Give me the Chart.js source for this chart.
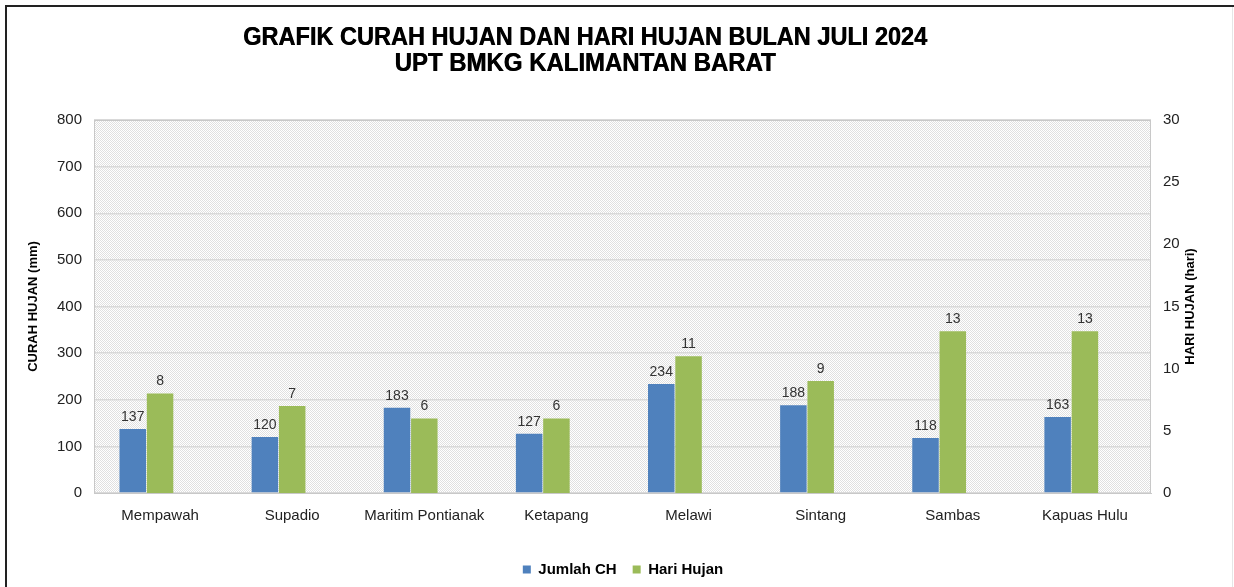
<!DOCTYPE html>
<html>
<head>
<meta charset="utf-8">
<script src="https://cdn.jsdelivr.net/npm/chart.js@4"></script>
<style>
  html, body { margin: 0; padding: 0; background: #fff; }
  #wrap { width: 1234px; height: 587px; position: relative; }
</style>
</head>
<body>
<div id="wrap"><canvas id="grafik" width="1234" height="587"></canvas></div>
<script>
// --- Data ---
const categories = ['Mempawah', 'Supadio', 'Maritim Pontianak', 'Ketapang', 'Melawi', 'Sintang', 'Sambas', 'Kapuas Hulu'];
const jumlahCH = [137, 120, 183, 127, 234, 188, 118, 163];
const hariHujan = [8, 7, 6, 6, 11, 9, 13, 13];
const titleLines = ['GRAFIK CURAH HUJAN DAN HARI HUJAN BULAN JULI 2024', 'UPT BMKG KALIMANTAN BARAT'];
const leftAxis = { title: 'CURAH HUJAN (mm)', max: 800, step: 100 };
const rightAxis = { title: 'HARI HUJAN (hari)', max: 30, step: 5 };

const FONT = "'Liberation Sans', Arial, sans-serif";
const BLUE = '#4F81BD';
const GREEN = '#9BBB59';

// dotted plot background
function makePattern(ctx) {
    const c = document.createElement('canvas');
    c.width = 2; c.height = 2;
    const p = c.getContext('2d');
    p.fillStyle = '#ffffff'; p.fillRect(0, 0, 2, 2);
    p.fillStyle = '#e0e0e0';
    p.fillRect(0, 0, 1, 1); p.fillRect(1, 1, 1, 1);
    return ctx.createPattern(c, 'repeat');
}

const decorPlugin = {
    id: 'decor',
    beforeDraw(chart) {
        const { ctx, chartArea: a } = chart;
        ctx.save();
        ctx.fillStyle = makePattern(ctx);
        ctx.fillRect(a.left, a.top, a.right - a.left, a.bottom - a.top);
        ctx.restore();
    },
    afterDraw(chart) {
        const { ctx, chartArea: a } = chart;
        ctx.save();
        // frame
        ctx.strokeStyle = '#222';
        ctx.lineWidth = 2;
        ctx.beginPath();
        ctx.moveTo(6, 587); ctx.lineTo(6, 6); ctx.lineTo(1234, 6);
        ctx.stroke();
        ctx.strokeStyle = '#e6e6e6';
        ctx.lineWidth = 1;
        ctx.beginPath(); ctx.moveTo(1232.5, 7); ctx.lineTo(1232.5, 587); ctx.stroke();

        // plot border
        ctx.strokeStyle = '#c8c8c8';
        ctx.strokeRect(a.left + 0.5, a.top + 0.5, a.right - a.left - 1, a.bottom - a.top);

        // title (condensed bold)
        ctx.fillStyle = '#000';
        ctx.textAlign = 'center';
        ctx.textBaseline = 'middle';
        ctx.font = 'bold 26px ' + FONT;
        const widths = [684, 381];
        const ys = [38, 64];
        titleLines.forEach((t, i) => {
            const w = ctx.measureText(t).width;
            ctx.save();
            ctx.translate(585, ys[i]);
            ctx.scale(widths[i] / w, 1);
            ctx.fillText(t, 0, 0);
            // a second pass slightly offset to mimic the heavier narrow face
            ctx.fillText(t, 0.6, 0);
            ctx.restore();
        });

        // axis titles, both reading bottom-to-top
        ctx.font = 'bold 13px ' + FONT;
        const midY = (a.top + a.bottom) / 2;
        [[33, leftAxis.title], [1190, rightAxis.title]].forEach(([x, t]) => {
            ctx.save();
            ctx.translate(x, midY);
            ctx.rotate(-Math.PI / 2);
            ctx.fillText(t, 0, 0);
            ctx.restore();
        });

        // value labels
        ctx.font = '14px ' + FONT;
        ctx.fillStyle = '#333';
        ctx.textBaseline = 'bottom';
        [0, 1].forEach(di => {
            const meta = chart.getDatasetMeta(di);
            meta.data.forEach((bar, i) => {
                ctx.fillText(String(chart.data.datasets[di].data[i]), bar.x, bar.y - 5);
            });
        });
        ctx.restore();
    }
};

new Chart(document.getElementById('grafik'), {
    type: 'bar',
    data: {
        labels: categories,
        datasets: [
            { label: 'Jumlah CH', data: jumlahCH, yAxisID: 'y', backgroundColor: BLUE },
            { label: 'Hari Hujan', data: hariHujan, yAxisID: 'y1', backgroundColor: GREEN },
            // empty slot so the pair sits left of the category centre, like the original
            { label: '', data: categories.map(() => null), yAxisID: 'y', backgroundColor: 'rgba(0,0,0,0)' }
        ]
    },
    options: {
        responsive: false,
        animation: false,
        layout: { padding: { top: 120, left: 12, right: 0, bottom: 0 } },
        categoryPercentage: 0.62,
        barPercentage: 0.97,
        scales: {
            x: {
                grid: { display: false },
                border: { display: true, color: '#c8c8c8' },
                ticks: { color: '#222', font: { family: FONT, size: 15 }, padding: 6, maxRotation: 0, autoSkip: false },
                afterFit: s => { s.height = 53; }
            },
            y: {
                position: 'left',
                min: 0, max: leftAxis.max,
                grid: { color: '#d9d9d9', lineWidth: 1.5, drawTicks: false },
                border: { display: false },
                ticks: { stepSize: leftAxis.step, color: '#222', font: { family: FONT, size: 15 }, padding: 12 },
                afterFit: s => { s.width = 82; }
            },
            y1: {
                position: 'right',
                min: 0, max: rightAxis.max,
                grid: { display: false, drawTicks: false },
                border: { display: false },
                ticks: { stepSize: rightAxis.step, color: '#222', font: { family: FONT, size: 15 }, padding: 12 },
                afterFit: s => { s.width = 83; }
            }
        },
        plugins: {
            title: { display: false },
            tooltip: { enabled: false },
            legend: {
                position: 'bottom',
                labels: {
                    filter: item => item.text !== '',
                    boxWidth: 8, boxHeight: 8,
                    color: '#000',
                    font: { family: FONT, size: 15, weight: 'bold' },
                    padding: 16
                }
            }
        }
    },
    plugins: [decorPlugin]
});
</script>
</body>
</html>
